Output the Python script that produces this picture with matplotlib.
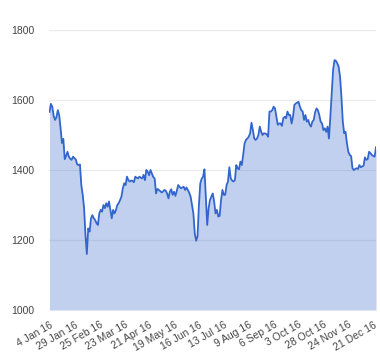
import matplotlib
matplotlib.use("Agg")
import matplotlib.pyplot as plt
import numpy as np

values = [
    1566, 1589, 1581, 1555, 1543, 1550, 1571, 1557, 1520, 1477,
    1489, 1431, 1440, 1452, 1438, 1432, 1429, 1438, 1434, 1430,
    1416, 1414, 1416, 1357, 1329, 1291, 1214, 1160, 1233, 1224,
    1262, 1271, 1262, 1257, 1248, 1243, 1276, 1286, 1281, 1300,
    1291, 1305, 1295, 1310, 1286, 1262, 1286, 1276, 1285, 1300,
    1305, 1314, 1324, 1348, 1362, 1357, 1381, 1371, 1367, 1370,
    1369, 1365, 1381, 1378, 1376, 1381, 1378, 1376, 1386, 1371,
    1400, 1395, 1385, 1400, 1390, 1380, 1376, 1333, 1346, 1343,
    1340, 1336, 1338, 1343, 1341, 1333, 1319, 1338, 1345, 1329,
    1338, 1326, 1340, 1357, 1352, 1348, 1350, 1352, 1343, 1350,
    1343, 1335, 1324, 1300, 1276, 1219, 1198, 1210, 1300, 1362,
    1375, 1381, 1402, 1324, 1243, 1290, 1314, 1324, 1333, 1310,
    1276, 1286, 1267, 1269, 1314, 1343, 1329, 1329, 1357, 1367,
    1408, 1376, 1370, 1367, 1371, 1414, 1405, 1402, 1424, 1414,
    1443, 1476, 1486, 1490, 1495, 1505, 1535, 1514, 1490, 1486,
    1490, 1500, 1524, 1509, 1500, 1505, 1504, 1502, 1495, 1567,
    1567, 1571, 1581, 1576, 1552, 1529, 1533, 1533, 1526, 1548,
    1552, 1548, 1567, 1557, 1557, 1533, 1552, 1586, 1590, 1592,
    1595, 1581, 1571, 1567, 1543, 1557, 1538, 1543, 1530, 1524,
    1538, 1543, 1565, 1576, 1571, 1557, 1538, 1533, 1514, 1519,
    1509, 1524, 1490, 1552, 1619, 1686, 1714, 1712, 1705, 1695,
    1667, 1610, 1538, 1505, 1509, 1476, 1452, 1443, 1440, 1405,
    1400, 1403, 1405, 1403, 1414, 1408, 1410, 1412, 1436, 1429,
    1431, 1452, 1448, 1443, 1440, 1438, 1465,
]

tick_labels = ["4 Jan 16", "29 Jan 16", "25 Feb 16", "23 Mar 16", "21 Apr 16",
               "19 May 16", "16 Jun 16", "13 Jul 16", "9 Aug 16", "6 Sep 16",
               "3 Oct 16", "28 Oct 16", "24 Nov 16", "21 Dec 16"]
tick_step = 18
y_ticks = [1000, 1200, 1400, 1600, 1800]

plt.rcParams['font.family'] = ['Liberation Sans', 'DejaVu Sans']

fig = plt.figure(figsize=(3.8, 3.6), dpi=100)
ax = fig.add_axes([49.5/380, 50/360, (376-49.5)/380, 280/360])

x = np.arange(len(values))
line_color = "#3366cc"
ax.fill_between(x, 1000, values, color=line_color, alpha=0.3, linewidth=0, zorder=2)
ax.plot(x, values, color=line_color, linewidth=1.3, zorder=3)

ax.set_xlim(0, len(values) - 1)
ax.set_ylim(1000, 1800)
ax.set_yticks(y_ticks)
ax.set_yticklabels([str(v) for v in y_ticks])
ax.set_xticks(np.arange(len(tick_labels)) * tick_step)
ax.set_xticklabels(tick_labels, rotation=30, ha='right', rotation_mode='anchor')

ax.grid(axis='y', color='#ebebeb', linewidth=1, zorder=1)
ax.set_axisbelow(True)
for s in ax.spines.values():
    s.set_visible(False)
ax.tick_params(axis='both', length=0, labelsize=7.5, colors='#444444')
ax.tick_params(axis='y', pad=11)
ax.tick_params(axis='x', pad=7)

fig.savefig("out.png", dpi=100)
